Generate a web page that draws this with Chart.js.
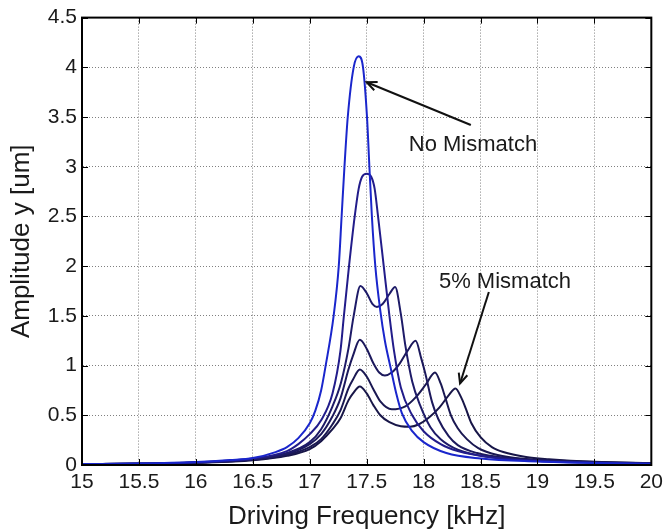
<!DOCTYPE html>
<html><head><meta charset="utf-8">
<script src="https://cdn.jsdelivr.net/npm/chart.js@4.4.0/dist/chart.umd.min.js"></script>
<style>html,body{margin:0;padding:0;background:#fff;}#wrap{width:668px;height:532px;}</style>
</head><body><div id="wrap"><canvas id="c" width="668" height="532"></canvas></div>
<script>
// ---- tick labels ----
const xTickValues = [15, 15.5, 16, 16.5, 17, 17.5, 18, 18.5, 19, 19.5, 20];
const xTickLabels = ['15', '15.5', '16', '16.5', '17', '17.5', '18', '18.5', '19', '19.5', '20'];
const yTickValues = [0, 0.5, 1, 1.5, 2, 2.5, 3, 3.5, 4, 4.5];
const yTickLabels = ['0', '0.5', '1', '1.5', '2', '2.5', '3', '3.5', '4', '4.5'];

// ---- series (frequency kHz, amplitude um) ----
const seriesNames = ['No Mismatch', '1% Mismatch', '2% Mismatch', '3% Mismatch', '4% Mismatch', '5% Mismatch'];

const freq0 = [15, 15.5, 16, 16.3, 16.5, 16.7, 16.8, 16.9, 17, 17.05, 17.1, 17.14, 17.21, 17.255, 17.28, 17.305, 17.334, 17.386, 17.43, 17.468, 17.503, 17.524, 17.546, 17.576, 17.62, 17.66, 17.71, 17.76, 17.81, 17.9, 18, 18.2, 18.5, 19, 19.5, 20];
const amp0  = [0.01, 0.015, 0.03, 0.05, 0.07, 0.13, 0.18, 0.27, 0.42, 0.55, 0.75, 1.0, 1.5, 2.0, 2.5, 3.0, 3.5, 4.0, 4.11, 4.0, 3.5, 3.0, 2.5, 2.0, 1.55, 1.25, 0.98, 0.72, 0.52, 0.34, 0.23, 0.12, 0.065, 0.035, 0.02, 0.012];

const freq1 = [15, 15.5, 16, 16.5, 16.8, 16.9, 17, 17.1, 17.2, 17.27, 17.3, 17.345, 17.395, 17.43, 17.46, 17.5, 17.54, 17.57, 17.6, 17.65, 17.7, 17.74, 17.8, 17.9, 18, 18.15, 18.3, 18.6, 19, 19.5, 20];
const amp1  = [0.01, 0.014, 0.028, 0.065, 0.14, 0.21, 0.31, 0.45, 0.72, 1.15, 1.5, 2.0, 2.5, 2.78, 2.9, 2.93, 2.9, 2.78, 2.5, 2.0, 1.5, 1.15, 0.78, 0.5, 0.34, 0.21, 0.14, 0.075, 0.04, 0.022, 0.013];

const freq2 = [15, 15.5, 16, 16.5, 16.8, 17, 17.1, 17.2, 17.275, 17.34, 17.386, 17.445, 17.5, 17.55, 17.59, 17.64, 17.7, 17.75, 17.8, 17.84, 17.9, 17.97, 18.06, 18.15, 18.3, 18.55, 19, 19.5, 20];
const amp2  = [0.01, 0.013, 0.026, 0.058, 0.12, 0.23, 0.36, 0.59, 0.83, 1.17, 1.5, 1.8, 1.73, 1.62, 1.59, 1.62, 1.72, 1.79, 1.52, 1.2, 0.84, 0.6, 0.38, 0.26, 0.155, 0.085, 0.045, 0.024, 0.014];

const freq3 = [15, 15.5, 16, 16.5, 16.8, 17, 17.1, 17.2, 17.27, 17.34, 17.38, 17.44, 17.5, 17.56, 17.61, 17.66, 17.72, 17.79, 17.86, 17.93, 17.98, 18.015, 18.075, 18.13, 18.22, 18.3, 18.47, 18.73, 19, 19.5, 20];
const amp3  = [0.01, 0.013, 0.025, 0.055, 0.11, 0.21, 0.31, 0.49, 0.67, 0.96, 1.1, 1.26, 1.17, 1.02, 0.93, 0.9, 0.93, 1.02, 1.15, 1.25, 1.07, 0.92, 0.63, 0.46, 0.29, 0.2, 0.12, 0.07, 0.05, 0.026, 0.015];

const freq4 = [15, 15.5, 16, 16.5, 16.8, 17, 17.1, 17.2, 17.27, 17.34, 17.38, 17.44, 17.5, 17.56, 17.62, 17.72, 17.84, 17.93, 18.02, 18.1, 18.15, 18.19, 18.24, 18.3, 18.38, 18.48, 18.65, 18.9, 19.3, 19.6, 20];
const amp4  = [0.01, 0.012, 0.024, 0.053, 0.1, 0.18, 0.26, 0.41, 0.55, 0.77, 0.86, 0.96, 0.89, 0.76, 0.64, 0.56, 0.59, 0.68, 0.81, 0.93, 0.82, 0.68, 0.5, 0.37, 0.26, 0.17, 0.1, 0.06, 0.038, 0.028, 0.016];

const freq5 = [15, 15.5, 16, 16.5, 16.8, 17, 17.1, 17.2, 17.27, 17.34, 17.38, 17.44, 17.5, 17.56, 17.62, 17.7, 17.8, 17.88, 17.96, 18.05, 18.14, 18.22, 18.28, 18.33, 18.37, 18.42, 18.5, 18.6, 18.7, 18.9, 19.1, 19.5, 20];
const amp5  = [0.01, 0.012, 0.023, 0.048, 0.092, 0.16, 0.24, 0.36, 0.47, 0.65, 0.72, 0.79, 0.72, 0.6, 0.5, 0.43, 0.39, 0.385, 0.41, 0.48, 0.58, 0.7, 0.77, 0.68, 0.57, 0.42, 0.28, 0.18, 0.13, 0.08, 0.058, 0.032, 0.018];

const seriesColors = ['#1a26cc', '#221c8a', '#1e1b68', '#1c195c', '#1a1852', '#181648'];

// ---- annotations (data coordinates) ----
const annotationTexts = ['No Mismatch', '5% Mismatch'];
const annotationTextPos = [[17.87, 3.22], [18.135, 1.84]];
const arrowFrom = [[18.415, 3.42], [18.573, 1.74]];
const arrowTo = [[17.50, 3.85], [18.32, 0.82]];

const freqs = [freq0, freq1, freq2, freq3, freq4, freq5];
const amps = [amp0, amp1, amp2, amp3, amp4, amp5];

Chart.defaults.font.family = "'Liberation Sans', Arial, Helvetica, sans-serif";

const datasets = seriesNames.map((name, k) => ({
  label: name,
  data: freqs[k].map((f, i) => ({ x: f, y: amps[k][i] })),
  borderColor: seriesColors[k],
  borderWidth: 2,
  pointRadius: 0,
  fill: false,
  cubicInterpolationMode: 'monotone'
}));

const framePlugin = {
  id: 'frame',
  afterDatasetsDraw(chart) {
    const { ctx, chartArea: a, scales: { x, y } } = chart;
    ctx.save();
    ctx.strokeStyle = '#000';
    ctx.lineWidth = 1;
    ctx.beginPath();
    xTickValues.forEach(v => {
      const px = Math.round(x.getPixelForValue(v)) + 0.5;
      ctx.moveTo(px, a.bottom); ctx.lineTo(px, a.bottom - 6);
      ctx.moveTo(px, a.top); ctx.lineTo(px, a.top + 6);
    });
    yTickValues.forEach(v => {
      const py = Math.round(y.getPixelForValue(v)) + 0.5;
      ctx.moveTo(a.left, py); ctx.lineTo(a.left + 6, py);
      ctx.moveTo(a.right, py); ctx.lineTo(a.right - 6, py);
    });
    ctx.stroke();
    ctx.lineWidth = 2;
    ctx.strokeRect(a.left, a.top, a.right - a.left, a.bottom - a.top);

    // arrows
    ctx.strokeStyle = '#111';
    ctx.lineWidth = 2;
    arrowFrom.forEach((fr, i) => {
      const x1 = x.getPixelForValue(fr[0]), y1 = y.getPixelForValue(fr[1]);
      const x2 = x.getPixelForValue(arrowTo[i][0]), y2 = y.getPixelForValue(arrowTo[i][1]);
      ctx.beginPath(); ctx.moveTo(x1, y1); ctx.lineTo(x2, y2); ctx.stroke();
      const ang = Math.atan2(y2 - y1, x2 - x1), L = 11, s = 0.42;
      ctx.beginPath();
      ctx.moveTo(x2 - L * Math.cos(ang - s), y2 - L * Math.sin(ang - s));
      ctx.lineTo(x2, y2);
      ctx.lineTo(x2 - L * Math.cos(ang + s), y2 - L * Math.sin(ang + s));
      ctx.stroke();
    });
    // annotation texts
    ctx.fillStyle = '#1a1a1a';
    ctx.font = "22px 'Liberation Sans', Arial, sans-serif";
    ctx.textAlign = 'left';
    ctx.textBaseline = 'middle';
    annotationTexts.forEach((t, i) => {
      ctx.fillText(t, x.getPixelForValue(annotationTextPos[i][0]), y.getPixelForValue(annotationTextPos[i][1]));
    });
    ctx.restore();
  }
};

new Chart(document.getElementById('c').getContext('2d'), {
  type: 'line',
  data: { datasets },
  options: {
    responsive: false,
    animation: false,
    devicePixelRatio: 1,
    layout: { padding: { left: 0, right: 14, top: 16, bottom: 0 } },
    plugins: { legend: { display: false }, tooltip: { enabled: false } },
    scales: {
      x: {
        type: 'linear', min: 15, max: 20,
        ticks: { stepSize: 0.5, autoSkip: false, maxRotation: 0, padding: 5, color: '#1a1a1a',
                 font: { size: 21 }, callback: (v, i) => xTickLabels[i] },
        grid: { color: '#808080', lineWidth: 1, drawTicks: false },
        border: { display: true, color: '#000', width: 2, dash: [1, 2] },
        title: { display: true, text: 'Driving Frequency [kHz]', color: '#1a1a1a',
                 font: { size: 26 }, padding: { top: 0, bottom: 0 } },
        afterFit: s => { s.height = 67; }
      },
      y: {
        type: 'linear', min: 0, max: 4.5,
        ticks: { stepSize: 0.5, autoSkip: false, padding: 5, color: '#1a1a1a',
                 font: { size: 21 }, callback: (v, i) => yTickLabels[i] },
        grid: { color: '#808080', lineWidth: 1, drawTicks: false },
        border: { display: true, color: '#000', width: 2, dash: [1, 2] },
        title: { display: true, text: 'Amplitude y [um]', color: '#1a1a1a',
                 font: { size: 26 }, padding: { top: 6, bottom: 0 } },
        afterFit: s => { s.width = 82; }
      }
    }
  },
  plugins: [framePlugin]
});
</script></body></html>
